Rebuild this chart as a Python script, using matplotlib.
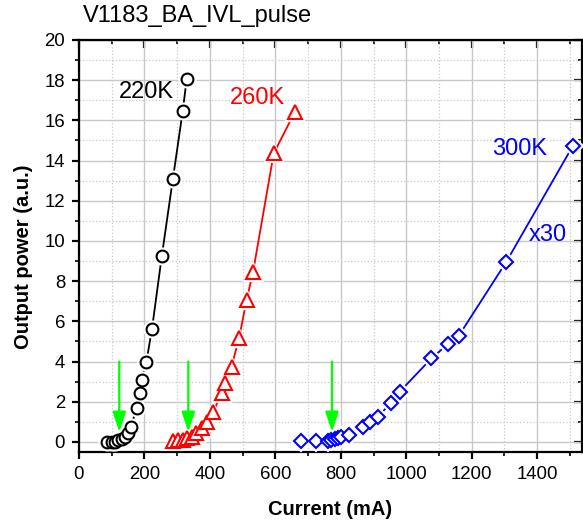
import matplotlib
matplotlib.use('Agg')
import matplotlib.pyplot as plt
from matplotlib.ticker import MultipleLocator

# === DATA ===
cur_220 = [85, 100, 110, 120, 130, 140, 150, 158, 176, 186, 191, 206, 223, 253, 287, 317, 329]
pow_220 = [0.0, 0.0, 0.02, 0.1, 0.15, 0.26, 0.43, 0.73, 1.68, 2.42, 3.08, 4.0, 5.62, 9.25, 13.1, 16.47, 18.04]

cur_260 = [288, 303, 318, 329, 344, 359, 375, 390, 410, 436, 446, 466, 489, 512, 532, 595, 660]
pow_260 = [0.05, 0.1, 0.1, 0.18, 0.26, 0.43, 0.68, 1.01, 1.51, 2.42, 2.92, 3.75, 5.16, 7.06, 8.47, 14.36, 16.43]

cur_300 = [677, 723, 761, 771, 782, 792, 802, 824, 868, 889, 914, 952, 980, 1077, 1128, 1160, 1306, 1509]
pow_300 = [0.05, 0.05, 0.05, 0.1, 0.15, 0.22, 0.26, 0.35, 0.73, 1.01, 1.26, 1.93, 2.5, 4.16, 4.88, 5.27, 8.97, 14.73]

# thresholds marked with green arrows
arrow_x = [123, 334, 773]

COLORS = {'220': 'black', '260': '#FF0000', '300': '#0000FF',
          'arrow': '#00FF00', 'grid': '#C8C8C8'}

plt.rcParams.update({
    'font.family': ['Liberation Sans', 'DejaVu Sans'],
    'font.size': 13.4,
})

W, H = 583, 525
fig = plt.figure(figsize=(W / 100, H / 100), dpi=100)
ax = fig.add_axes([79 / W, 1 - 452 / H, (582 - 79) / W, (452 - 40) / H])

series = [
    (cur_220, pow_220, 'o', 8.5, COLORS['220']),
    (cur_260, pow_260, '^', 9.5, COLORS['260']),
    (cur_300, pow_300, 'D', 7, COLORS['300']),
]
for x, y, mk, ms, col in series:
    ax.plot(x, y, '-', color=col, lw=1.3, zorder=2)
    # white halo so the line stops short of each marker (Origin style)
    ax.plot(x, y, ls='none', marker=mk, ms=ms + 3, mfc='white', mec='white',
            mew=1.5, zorder=3)
    ax.plot(x, y, ls='none', marker=mk, ms=ms, mfc='white', mec=col,
            mew=1.5, zorder=4)

for xa in arrow_x:
    ax.annotate('', xy=(xa, 0.5), xytext=(xa, 4.0),
                arrowprops=dict(arrowstyle='-|>,head_length=0.9,head_width=0.3',
                                color=COLORS['arrow'], lw=1.6,
                                shrinkA=0, shrinkB=0),
                zorder=5)

ax.text(206, 17.4, '220K', color=COLORS['220'], fontsize=17, ha='center', va='center')
ax.text(546, 17.1, '260K', color=COLORS['260'], fontsize=17, ha='center', va='center')
ax.text(1346, 14.6, '300K', color=COLORS['300'], fontsize=17, ha='center', va='center')
ax.text(1434, 10.3, 'x30', color=COLORS['300'], fontsize=17, ha='center', va='center')

ax.set_xlim(0, 1537)
ax.set_ylim(-0.5, 20)
ax.xaxis.set_major_locator(MultipleLocator(200))
ax.xaxis.set_minor_locator(MultipleLocator(100))
ax.yaxis.set_major_locator(MultipleLocator(2))
ax.yaxis.set_minor_locator(MultipleLocator(1))

ax.grid(which='major', color=COLORS['grid'], lw=1.0, ls='-')
ax.grid(which='minor', color=COLORS['grid'], lw=0.9, ls=':')
ax.set_axisbelow(True)

for sp in ax.spines.values():
    sp.set_linewidth(1.6)
ax.tick_params(which='major', direction='out', length=5, width=1.6, pad=5)
ax.tick_params(which='minor', direction='out', length=3, width=1.2)

# inward ticks on top and right, no labels
top = ax.secondary_xaxis('top')
top.xaxis.set_major_locator(MultipleLocator(200))
top.xaxis.set_minor_locator(MultipleLocator(100))
top.tick_params(which='major', direction='in', length=6, width=1.6, labeltop=False)
top.tick_params(which='minor', direction='in', length=3, width=1.2)
right = ax.secondary_yaxis('right')
right.yaxis.set_major_locator(MultipleLocator(2))
right.yaxis.set_minor_locator(MultipleLocator(1))
right.tick_params(which='major', direction='in', length=6, width=1.6, labelright=False)
right.tick_params(which='minor', direction='in', length=3, width=1.2)

ax.set_xlabel('Current (mA)', fontsize=14.5, fontweight='bold')
ax.xaxis.set_label_coords(0.5, -(500 - 452) / 412)
ax.set_ylabel('Output power (a.u.)', fontsize=14.5, fontweight='bold')
ax.yaxis.set_label_coords(-(79 - 33) / 503, (452 - 256.5) / 412)

fig.text(83 / W, 1 - 16 / H, 'V1183_BA_IVL_pulse', fontsize=17, ha='left', va='center')

fig.savefig('out.png', dpi=100, facecolor='white')
